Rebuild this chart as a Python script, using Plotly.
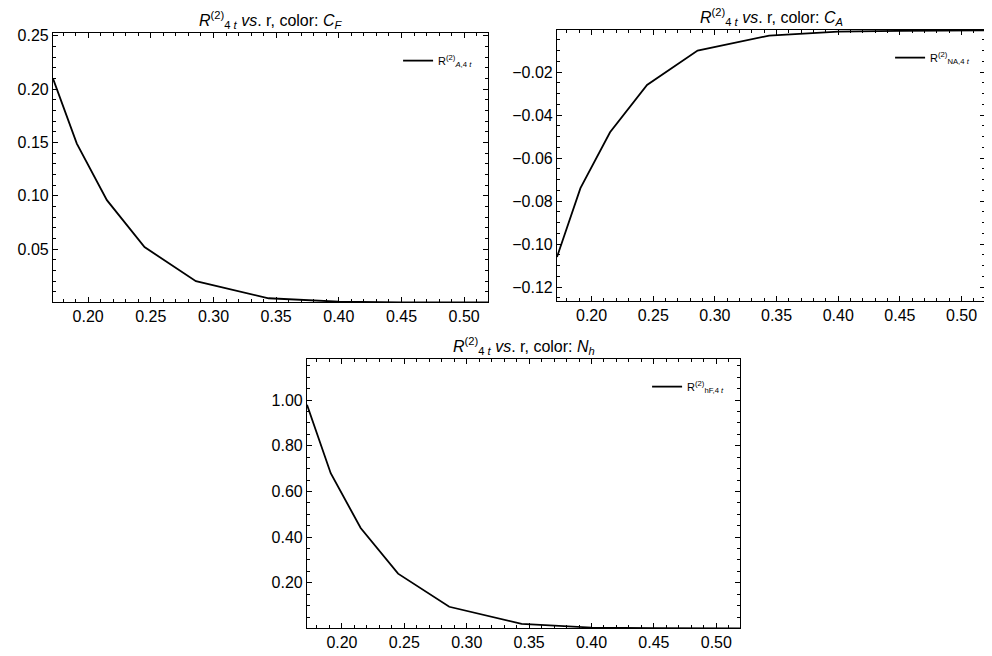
import plotly.graph_objs as go

r = [0.172, 0.191, 0.215, 0.245, 0.286, 0.344, 0.40, 0.45, 0.52]
r_cf = [0.210, 0.149, 0.096, 0.052, 0.020, 0.004, 0.0008, 0.0002, 0.0001]
r_ca = [-0.106, -0.074, -0.048, -0.026, -0.010, -0.003, -0.0012, -0.0008, -0.0006]
r_nh = [0.98, 0.68, 0.44, 0.24, 0.095, 0.02, 0.004, 0.001, 0.0005]

W, H = 992, 656
OFF = 8  # page body margin
font = dict(family='Liberation Sans, Arial', size=16, color='black')

def px(x0, x1):
    return [(x0 - OFF) / W, (x1 - OFF) / W]

def py(y0, y1):
    return [1 - (y1 - OFF) / H, 1 - (y0 - OFF) / H]

panels = [
    ('x', 'y', r_cf, 'R<sup>(2)</sup><sub><i>A</i>,4 <i>t</i></sub>', 'legend',
     px(53, 488), py(33, 302), [0.0005, 0.2527], 0.05, 'C<sub>F</sub>'),
    ('x2', 'y2', r_ca, 'R<sup>(2)</sup><sub>NA,4 <i>t</i></sub>', 'legend2',
     px(557, 985), py(30, 301), [-0.1265, -0.0004], 0.02, 'C<sub>A</sub>'),
    ('x3', 'y3', r_nh, 'R<sup>(2)</sup><sub>hF,4 <i>t</i></sub>', 'legend3',
     px(307, 740), py(359, 628), [0.002, 1.18], 0.2, 'N<sub>h</sub>'),
]

fig = go.Figure()
layout = dict(width=W, height=H, margin=dict(l=0, r=0, t=0, b=0),
              plot_bgcolor='white', paper_bgcolor='white', font=font,
              annotations=[])
for i, (xa, ya, yv, name, leg, xd, yd, yr, dt, col) in enumerate(panels):
    fig.add_trace(go.Scatter(x=r, y=yv, mode='lines', name=name, xaxis=xa, yaxis=ya,
                             line=dict(color='black', width=1.8), legend=leg))
    sfx = '' if i == 0 else str(i + 1)
    ax = dict(showgrid=False, zeroline=False, showline=True, linecolor='black',
              linewidth=1.2, mirror='ticks', ticks='inside', ticklen=5,
              tickcolor='black', minor=dict(ticks='inside', ticklen=3, nticks=5,
                                            tickcolor='black'),
              tickformat='.2f', tickfont=font, automargin=False)
    layout['xaxis' + sfx] = dict(ax, domain=xd, range=[0.172, 0.519], dtick=0.05,
                                 tick0=0.2, anchor='y' + sfx)
    layout['yaxis' + sfx] = dict(ax, domain=yd, range=yr, dtick=dt, tick0=0,
                                 anchor='x' + sfx)
    layout[leg] = dict(x=xd[1] - 0.01, y=yd[1] - 0.02, xanchor='right', yanchor='top',
                       bgcolor='rgba(0,0,0,0)', font=dict(family=font['family'], size=11))
    layout['annotations'].append(dict(
        text='<i>R</i><sup>(2)</sup><sub>4 <i>t</i></sub> <i>vs</i>. r, color: <i>' + col + '</i>',
        x=(xd[0] + xd[1]) / 2, y=yd[1], xref='paper', yref='paper',
        xanchor='center', yanchor='bottom', showarrow=False, font=font))
layout['showlegend'] = True
fig.update_layout(**layout)
fig.write_html('out.html')
